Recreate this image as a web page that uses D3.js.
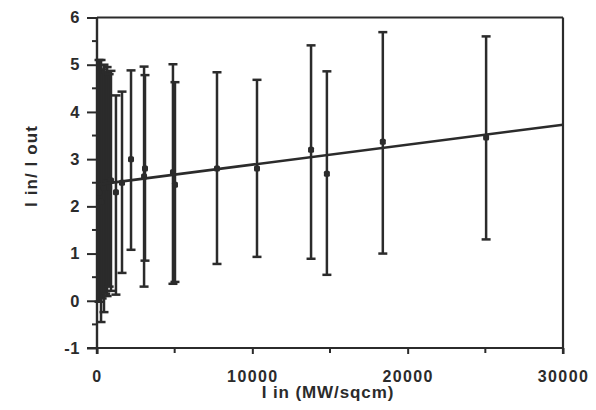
<!DOCTYPE html>
<html>
<head>
<meta charset="utf-8">
<script src="https://cdn.jsdelivr.net/npm/d3@7"></script>
<style>
  html, body { margin: 0; padding: 0; background: #fff; }
  svg { display: block; }
  text { font-family: "Liberation Sans", Arial, Helvetica, sans-serif; fill: #2b2b2b; }
</style>
</head>
<body>
<svg id="chart" width="596" height="410"></svg>
<script>
// Input intensity (MW/sqcm) for each measurement
const intensity = [130, 260, 330, 450, 560, 650, 780, 900, 1220, 1610, 2190, 3030, 3090,
                   4890, 5020, 7725, 10300, 13780, 14800, 18400, 25050];
// Mean ratio I in / I out
const ratio     = [2.3, 2.1, 2.45, 2.4, 2.5, 2.5, 2.4, 2.55, 2.3, 2.5, 3.0, 2.63, 2.8,
                   2.72, 2.46, 2.8, 2.8, 3.2, 2.69, 3.37, 3.46];
// Lower and upper ends of each error bar
const errLow    = [-0.02, -0.45, 0.05, -0.24, 0.15, 0.1, 0.3, 0.21, 0.13, 0.59, 1.08, 0.30, 0.85,
                   0.36, 0.40, 0.78, 0.93, 0.89, 0.55, 1.0, 1.3];
const errHigh   = [5.1, 5.1, 4.9, 5.0, 4.85, 4.95, 4.8, 4.87, 4.35, 4.43, 4.88, 4.96, 4.78,
                   5.01, 4.63, 4.84, 4.68, 5.41, 4.86, 5.69, 5.6];
// Linear fit through the data (end points)
const fitX = [0, 30000];
const fitY = [2.46, 3.73];
// Axis ticks
const xTicks = [0, 10000, 20000, 30000];
const xMinorTicks = [5000, 15000, 25000];
const yTicks = [-1, 0, 1, 2, 3, 4, 5, 6];
const yMinorTicks = [-0.5, 0.5, 1.5, 2.5, 3.5, 4.5, 5.5];

const ink = "#2b2b2b";
const svg = d3.select("#chart");
const margin = { left: 97, right: 33, top: 17.5, bottom: 62 };
const W = 596, H = 410;

const x = d3.scaleLinear().domain([0, 30000]).range([margin.left, W - margin.right]);
const y = d3.scaleLinear().domain([-1, 6]).range([H - margin.bottom, margin.top]);

// Frame: top and right edges
svg.append("line").attr("x1", x(0)).attr("x2", x(30000)).attr("y1", y(6)).attr("y2", y(6))
  .attr("stroke", ink).attr("stroke-width", 2.2);
svg.append("line").attr("x1", x(30000)).attr("x2", x(30000)).attr("y1", y(6)).attr("y2", y(-1) + 6)
  .attr("stroke", ink).attr("stroke-width", 2.2);

// Left axis
const yAxis = d3.axisLeft(y).tickValues(yTicks).tickSize(10).tickPadding(7).tickFormat(d => String(d));
const gy = svg.append("g").attr("transform", `translate(${x(0)},0)`).call(yAxis);
gy.select(".domain").remove();
gy.selectAll(".tick line").attr("stroke", ink).attr("stroke-width", 2);
gy.selectAll(".tick text").attr("font-size", 16.5).attr("fill", ink)
  .style("font-weight", "bold").style("letter-spacing", "0.5px");
svg.append("g").selectAll("line").data(yMinorTicks).join("line")
  .attr("x1", x(0) - 5).attr("x2", x(0)).attr("y1", d => y(d)).attr("y2", d => y(d))
  .attr("stroke", ink).attr("stroke-width", 2);
svg.append("line").attr("x1", x(0)).attr("x2", x(0)).attr("y1", y(6)).attr("y2", y(-1) + 6)
  .attr("stroke", ink).attr("stroke-width", 2.4);

// Bottom axis
const xAxis = d3.axisBottom(x).tickValues(xTicks).tickSize(6).tickPadding(17).tickFormat(d => String(d));
const gx = svg.append("g").attr("transform", `translate(0,${y(-1)})`).call(xAxis);
gx.select(".domain").remove();
gx.selectAll(".tick line").attr("stroke", ink).attr("stroke-width", 2);
gx.selectAll(".tick text").attr("font-size", 16).attr("fill", ink)
  .style("letter-spacing", "1.4px").style("font-weight", "bold");
svg.append("g").selectAll("line").data(xMinorTicks).join("line")
  .attr("x1", d => x(d)).attr("x2", d => x(d)).attr("y1", y(-1)).attr("y2", y(-1) + 5)
  .attr("stroke", ink).attr("stroke-width", 2);
svg.append("line").attr("x1", x(0) - 10).attr("x2", x(30000)).attr("y1", y(-1)).attr("y2", y(-1))
  .attr("stroke", ink).attr("stroke-width", 2.2);

// Axis titles
svg.append("text").attr("x", 328).attr("y", 398).attr("text-anchor", "middle")
  .attr("font-size", 17).attr("font-weight", "bold").attr("fill", ink)
  .style("letter-spacing", "0.9px")
  .text("I in (MW/sqcm)");
svg.append("text").attr("transform", "translate(37,166) rotate(-90)").attr("text-anchor", "middle")
  .attr("font-size", 17).attr("font-weight", "bold").attr("fill", ink)
  .style("letter-spacing", "1.1px")
  .text("I in/ I out");

// Error bars
const data = intensity.map((v, i) => ({ x: v, m: ratio[i], lo: errLow[i], hi: errHigh[i] }));
const bars = svg.append("g").attr("stroke", ink).attr("stroke-width", 2.5);
const capW = 4.5;
bars.selectAll(".stem").data(data).join("line").attr("class", "stem")
  .attr("x1", d => x(d.x)).attr("x2", d => x(d.x))
  .attr("y1", d => y(d.lo)).attr("y2", d => y(d.hi));
bars.selectAll(".capHi").data(data).join("line").attr("class", "capHi")
  .attr("x1", d => x(d.x) - capW).attr("x2", d => x(d.x) + capW)
  .attr("y1", d => y(d.hi)).attr("y2", d => y(d.hi));
bars.selectAll(".capLo").data(data).join("line").attr("class", "capLo")
  .attr("x1", d => x(d.x) - capW).attr("x2", d => x(d.x) + capW)
  .attr("y1", d => y(d.lo)).attr("y2", d => y(d.lo));

// Mean markers
svg.append("g").selectAll("rect").data(data).join("rect")
  .attr("x", d => x(d.x) - 3).attr("y", d => y(d.m) - 3)
  .attr("width", 6).attr("height", 6).attr("rx", 1.5).attr("fill", ink);

// Fit line
svg.append("path")
  .datum(fitX.map((v, i) => [v, fitY[i]]))
  .attr("d", d3.line().x(d => x(d[0])).y(d => y(d[1])))
  .attr("fill", "none").attr("stroke", ink).attr("stroke-width", 2.6);
</script>
</body>
</html>
